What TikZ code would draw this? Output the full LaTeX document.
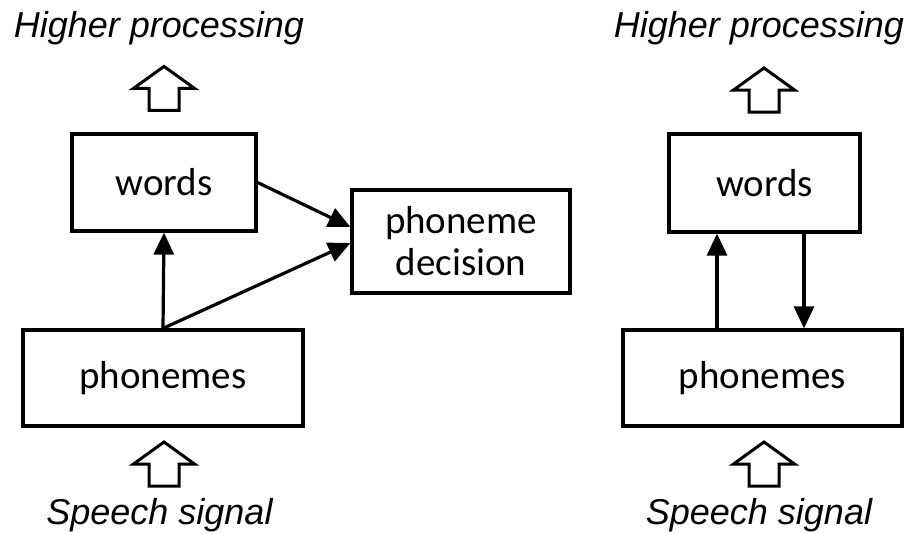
\documentclass[tikz,border=0pt]{standalone}
\usepackage{fontspec}
\setmainfont{Carlito}
\newfontfamily\labfont{Liberation Sans}
\usetikzlibrary{arrows.meta,calc}
\begin{document}
\begin{tikzpicture}[x=1pt, y=-1pt,
		box/.style = {draw, line width=3.2pt, inner sep=0pt, font=\fontsize{39}{42}\selectfont},
		lab/.style = {anchor=base, inner sep=0pt, font=\labfont\itshape\fontsize{36}{40}\selectfont},
		arr/.style = {line width=3.2pt, -{Triangle[length=22pt, width=20pt]}},
		bigup/.pic = {\draw[line width=3pt, line join=miter] (-15,0) -- (15,0) -- (15,-22) -- (30.5,-22) -- (0,-44) -- (-30.5,-22) -- (-15,-22) -- cycle;}]
		\useasboundingbox (0,0) rectangle (909,533);
		%% LEFT MODEL
		% Boxes
		\node[box, minimum width=184pt, minimum height=97pt] (words1) at (164,182.5) {words};
		\node[box, minimum width=280pt, minimum height=96pt] (phon1) at (163,378) {phonemes};
		\node[box, minimum width=218pt, minimum height=103pt, align=center] (dec) at (461,241.5) {phoneme\\decision};
		% Labels
		\node[lab] (hp1) at (159,37) {Higher processing};
		\node[lab] (ss1) at (159.5,524) {Speech signal};
		% Big arrows
		\pic at ($(words1.north)+(0,-22)$) {bigup};
		\pic at ($(phon1.south |- 0,486)+(1,0)$) {bigup};
		% Arrows
		\draw[arr] (phon1.north) -- (words1.south);
		\draw[arr] (phon1.north) -- ($(dec.west)+(0,1.5)$);
		\draw[arr] (words1.east) -- ($(dec.west)+(0,-14.5)$);
		%% RIGHT MODEL
		% Boxes
		\node[box, minimum width=191pt, minimum height=98pt] (words2) at (764.5,183) {words};
		\node[box, minimum width=279pt, minimum height=96pt] (phon2) at (762.5,378) {phonemes};
		% Labels
		\node[lab] (hp2) at (759,37) {Higher processing};
		\node[lab] (ss2) at (759,524) {Speech signal};
		% Big arrows
		\pic at (764,112) {bigup};
		\pic at (764,486) {bigup};
		% Arrows
		\coordinate (up2) at (717,0);
		\coordinate (down2) at (804,0);
		\draw[arr] (phon2.north -| up2) -- (words2.south -| up2);
		\draw[arr] (words2.south -| down2) -- (phon2.north -| down2);
	\end{tikzpicture}
\end{document}
